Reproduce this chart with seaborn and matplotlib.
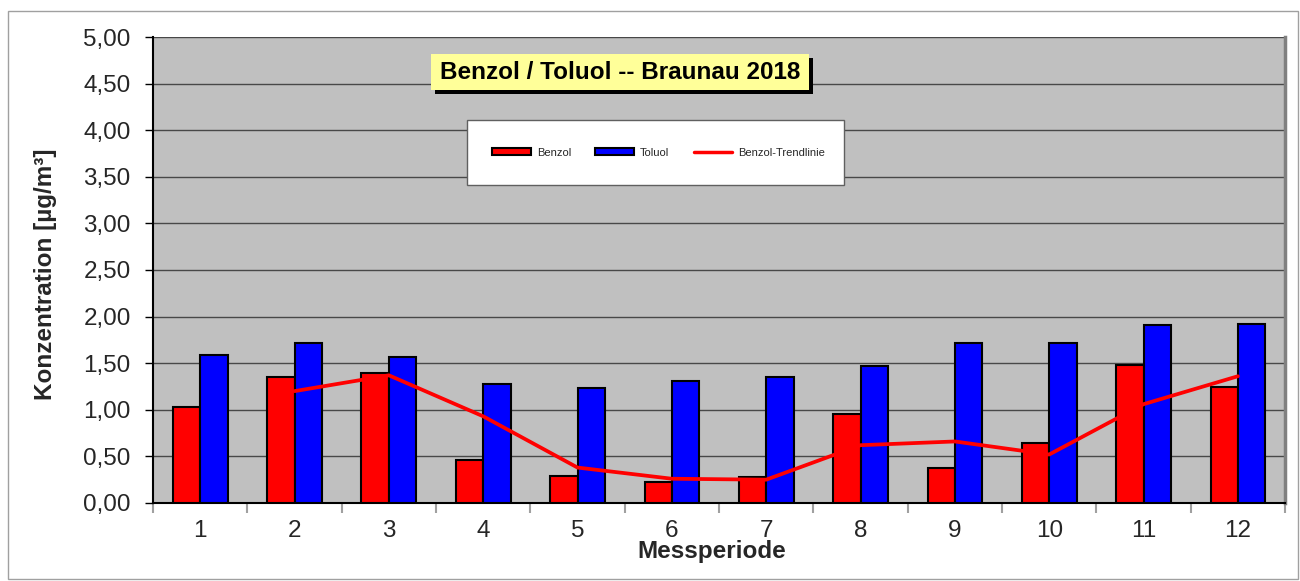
import numpy as np
import pandas as pd
import matplotlib
matplotlib.use("Agg")
import matplotlib.pyplot as plt
import matplotlib.patches as mpatches
import matplotlib.lines as mlines
from matplotlib.ticker import FuncFormatter, MultipleLocator
import seaborn as sns

# data
perioden = ["1", "2", "3", "4", "5", "6", "7", "8", "9", "10", "11", "12"]
benzol = [1.03, 1.35, 1.39, 0.46, 0.29, 0.23, 0.28, 0.95, 0.38, 0.64, 1.48, 1.24]
toluol = [1.59, 1.72, 1.57, 1.28, 1.23, 1.31, 1.35, 1.47, 1.72, 1.72, 1.91, 1.92]
trend_perioden = ["2", "3", "4", "5", "6", "7", "8", "9", "10", "11", "12"]
trend_werte = [1.20, 1.37, 0.93, 0.38, 0.26, 0.25, 0.62, 0.66, 0.52, 1.06, 1.36]

df = pd.DataFrame({
    "Messperiode": perioden * 2,
    "Konzentration": benzol + toluol,
    "Stoff": ["Benzol"] * len(perioden) + ["Toluol"] * len(perioden),
})

sns.set_style("white")
plt.rcParams["font.family"] = ["Liberation Sans", "DejaVu Sans"]

fig = plt.figure(figsize=(13, 5.81), dpi=100)
ax = fig.add_axes([0.1177, 0.1343, 0.8708, 0.802])
ax.set_facecolor("#C0C0C0")

sns.barplot(data=df, x="Messperiode", y="Konzentration", hue="Stoff",
            order=perioden, palette={"Benzol": "#FF0000", "Toluol": "#0000FF"},
            width=0.58, edgecolor="black", linewidth=1.5, saturation=1,
            legend=False, ax=ax, zorder=3)

trend_x = [perioden.index(p) for p in trend_perioden]
ax.plot(trend_x, trend_werte, color="#FF0000", lw=2.7, zorder=4)

ax.set_ylim(0, 5)
ax.set_xlim(-0.5, len(perioden) - 0.5)
ax.yaxis.set_major_locator(MultipleLocator(0.5))
ax.yaxis.set_major_formatter(FuncFormatter(lambda v, p: f"{v:.2f}".replace(".", ",")))
ax.grid(axis="y", color="#484848", lw=1, zorder=0)
ax.set_axisbelow(True)

ax.tick_params(axis="y", which="major", left=True, length=6, width=1,
               labelsize=17.5, color="black", pad=10)
ax.set_xticks(range(len(perioden)))
ax.set_xticklabels(perioden)
ax.tick_params(axis="x", which="major", length=0, labelsize=17.5, pad=12)
ax.set_xticks(np.arange(-0.5, len(perioden)), minor=True)
ax.tick_params(axis="x", which="minor", bottom=True, length=7, width=1.5,
               color="#A0A0A0")

for s in ["left", "bottom"]:
    ax.spines[s].set_color("black")
    ax.spines[s].set_linewidth(1.5)
ax.spines["top"].set_visible(False)
ax.spines["right"].set_color("#808080")
ax.spines["right"].set_linewidth(2.5)

ax.set_xlabel("Messperiode", fontsize=17.5, fontweight="bold")
ax.xaxis.set_label_coords(0.494, -0.079)
ax.set_ylabel("Konzentration [µg/m³]", fontsize=17.5, fontweight="bold")
ax.yaxis.set_label_coords(-0.085, 0.49)

# title box with shadow
ax.add_patch(mpatches.Rectangle((0.2456 + 0.0035, 0.8863 - 0.0086), 0.3339, 0.0773,
                                transform=ax.transAxes, fc="black", ec="none", zorder=5))
ax.add_patch(mpatches.Rectangle((0.2456, 0.8863), 0.3339, 0.0773,
                                transform=ax.transAxes, fc="#FFFF99", ec="none", zorder=6))
ax.text(0.4125, 0.9249, "Benzol / Toluol -- Braunau 2018", transform=ax.transAxes,
        ha="center", va="center", fontsize=17.5, fontweight="bold", color="black", zorder=7)

# legend box
ax.add_patch(mpatches.Rectangle((0.277, 0.682), 0.333, 0.140, transform=ax.transAxes,
                                fc="white", ec="#606060", lw=1, zorder=5))
handles = [
    mpatches.Patch(fc="#FF0000", ec="black", lw=1.5, label="Benzol"),
    mpatches.Patch(fc="#0000FF", ec="black", lw=1.5, label="Toluol"),
    mlines.Line2D([], [], color="#FF0000", lw=2.5, label="Benzol-Trendlinie"),
]
leg = ax.legend(handles=handles, loc="center", bbox_to_anchor=(0.4466, 0.7517),
                ncol=3, frameon=False, fontsize=8, handlelength=3.5,
                handleheight=0.55, handletextpad=0.5, columnspacing=2.2)
leg.set_zorder(6)

# outer chart border
fig.patches.append(mpatches.Rectangle((0.0062, 0.0034), 0.9923, 0.9776, transform=fig.transFigure,
                                      fill=False, ec="#A0A0A0", lw=1))

fig.savefig("out.png", dpi=100)
